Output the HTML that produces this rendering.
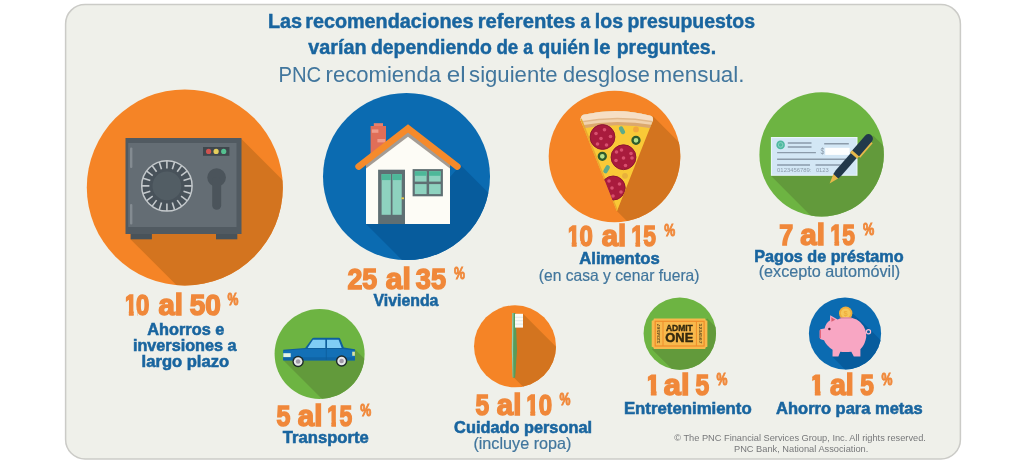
<!DOCTYPE html>
<html lang="es">
<head>
<meta charset="utf-8">
<title>Desglose mensual del presupuesto</title>
<style>
html,body{margin:0;padding:0;background:#fff;}
body{width:1024px;height:468px;overflow:hidden;}
svg{display:block;}
text{font-family:"Liberation Sans",sans-serif;}
.tb{font-weight:bold;fill:#19659f;}
.tr{fill:#3b7099;}
.num{font-weight:bold;fill:#f0883a;font-size:29px;}
.pct{font-weight:bold;fill:#f0883a;font-size:16.5px;}
.lab{font-weight:bold;fill:#1a6299;font-size:16.3px;}
.sub{fill:#3b7099;font-size:15.5px;}
.foot{fill:#77787a;font-size:9.6px;}
</style>
</head>
<body>
<svg width="1024" height="468" viewBox="0 0 1024 468">
<defs>
<clipPath id="c1"><circle cx="184.8" cy="187.4" r="98"/></clipPath>
<clipPath id="c2"><circle cx="406.5" cy="176.5" r="83.5"/></clipPath>
<clipPath id="c3"><circle cx="614.5" cy="156.5" r="65.8"/></clipPath>
<clipPath id="c4"><circle cx="821.6" cy="154.4" r="62.2"/></clipPath>
<clipPath id="c5"><circle cx="319.6" cy="354" r="45"/></clipPath>
<clipPath id="c6"><circle cx="515" cy="346.3" r="41"/></clipPath>
<clipPath id="c7"><circle cx="679.8" cy="333.6" r="36.2"/></clipPath>
<clipPath id="c8"><circle cx="845" cy="333.5" r="36.1"/></clipPath>
</defs>

<!-- card -->
<rect x="65.6" y="4.4" width="894.8" height="454.6" rx="19.5" ry="19.5" fill="#eff0ea" stroke="#cbcbc7" stroke-width="1.5"/>

<!-- title -->
<text x="267.94" y="28.02" font-size="19.93" font-weight="bold" fill="#19659f" stroke="#19659f" stroke-width="0.45" textLength="34.20" lengthAdjust="spacingAndGlyphs">Las</text>
<text x="305.19" y="28.02" font-size="19.93" font-weight="bold" fill="#19659f" stroke="#19659f" stroke-width="0.45" textLength="168.35" lengthAdjust="spacingAndGlyphs">recomendaciones</text>
<text x="477.66" y="28.02" font-size="19.93" font-weight="bold" fill="#19659f" stroke="#19659f" stroke-width="0.45" textLength="97.95" lengthAdjust="spacingAndGlyphs">referentes</text>
<text x="580.50" y="28.02" font-size="19.93" font-weight="bold" fill="#19659f" stroke="#19659f" stroke-width="0.45" textLength="9.72" lengthAdjust="spacingAndGlyphs">a</text>
<text x="594.86" y="28.02" font-size="19.93" font-weight="bold" fill="#19659f" stroke="#19659f" stroke-width="0.45" textLength="28.19" lengthAdjust="spacingAndGlyphs">los</text>
<text x="627.46" y="28.02" font-size="19.93" font-weight="bold" fill="#19659f" stroke="#19659f" stroke-width="0.45" textLength="127.54" lengthAdjust="spacingAndGlyphs">presupuestos</text>
<text x="308.23" y="53.98" font-size="19.93" font-weight="bold" fill="#19659f" stroke="#19659f" stroke-width="0.45" textLength="58.36" lengthAdjust="spacingAndGlyphs">varían</text>
<text x="370.95" y="53.98" font-size="19.93" font-weight="bold" fill="#19659f" stroke="#19659f" stroke-width="0.45" textLength="120.95" lengthAdjust="spacingAndGlyphs">dependiendo</text>
<text x="496.38" y="53.98" font-size="19.93" font-weight="bold" fill="#19659f" stroke="#19659f" stroke-width="0.45" textLength="21.84" lengthAdjust="spacingAndGlyphs">de</text>
<text x="523.30" y="53.98" font-size="19.93" font-weight="bold" fill="#19659f" stroke="#19659f" stroke-width="0.45" textLength="9.72" lengthAdjust="spacingAndGlyphs">a</text>
<text x="538.46" y="53.98" font-size="19.93" font-weight="bold" fill="#19659f" stroke="#19659f" stroke-width="0.45" textLength="51.25" lengthAdjust="spacingAndGlyphs">quién</text>
<text x="593.56" y="53.98" font-size="19.93" font-weight="bold" fill="#19659f" stroke="#19659f" stroke-width="0.45" textLength="16.91" lengthAdjust="spacingAndGlyphs">le</text>
<text x="616.71" y="53.98" font-size="19.93" font-weight="bold" fill="#19659f" stroke="#19659f" stroke-width="0.45" textLength="99.36" lengthAdjust="spacingAndGlyphs">preguntes.</text>
<text x="278.48" y="81.50" font-size="21.74" fill="#41769d" textLength="42.76" lengthAdjust="spacingAndGlyphs">PNC</text>
<text x="325.56" y="81.50" font-size="21.74" fill="#41769d" textLength="115.44" lengthAdjust="spacingAndGlyphs">recomienda</text>
<text x="446.78" y="81.50" font-size="21.74" fill="#41769d" textLength="18.88" lengthAdjust="spacingAndGlyphs">el</text>
<text x="469.09" y="81.50" font-size="21.74" fill="#41769d" textLength="88.58" lengthAdjust="spacingAndGlyphs">siguiente</text>
<text x="562.88" y="81.50" font-size="21.74" fill="#41769d" textLength="87.06" lengthAdjust="spacingAndGlyphs">desglose</text>
<text x="653.54" y="81.50" font-size="21.74" fill="#41769d" textLength="91.04" lengthAdjust="spacingAndGlyphs">mensual.</text>

<!-- circles -->
<g id="safe">
<circle cx="184.8" cy="187.4" r="98" fill="#f58426"/>
<g clip-path="url(#c1)"><polygon points="241.5,139 400,297.5 400,400 291.5,400 130.5,239.2" fill="#d3741f"/></g>
<rect x="130.6" y="232" width="21.3" height="7.3" fill="#485259"/>
<rect x="216" y="232" width="21.3" height="7.3" fill="#485259"/>
<rect x="125.5" y="138" width="116" height="96" fill="#515a61"/>
<rect x="128.2" y="143" width="108.3" height="84" fill="#646d74"/>
<rect x="130" y="147.5" width="2.4" height="20.5" rx="1" fill="#838b91"/>
<rect x="130" y="204" width="2.4" height="20.5" rx="1" fill="#838b91"/>
<rect x="203" y="147" width="26.4" height="8.8" fill="#3f474d"/>
<circle cx="208.6" cy="151.4" r="2.6" fill="#cf5350"/>
<circle cx="216.1" cy="151.4" r="2.6" fill="#e6cf5c"/>
<circle cx="223.7" cy="151.4" r="2.6" fill="#55c090"/>
<circle cx="166.9" cy="185.9" r="25.2" fill="#48525a" stroke="#c3c8cb" stroke-width="1.5"/>
<path d="M166.9,168.4L166.9,160.9M172.3,169.3L174.6,162.1M177.2,171.7L181.6,165.7M181.1,175.6L187.1,171.2M183.5,180.5L190.7,178.2M184.4,185.9L191.9,185.9M183.5,191.3L190.7,193.6M181.1,196.2L187.1,200.6M177.2,200.1L181.6,206.1M172.3,202.5L174.6,209.7M166.9,203.4L166.9,210.9M161.5,202.5L159.2,209.7M156.6,200.1L152.2,206.1M152.7,196.2L146.7,200.6M150.3,191.3L143.1,193.6M149.4,185.9L141.9,185.9M150.3,180.5L143.1,178.2M152.7,175.6L146.7,171.2M156.6,171.7L152.2,165.7M161.5,169.3L159.2,162.1" stroke="#c3c8cb" stroke-width="1.6" fill="none"/>
<circle cx="166.9" cy="185.9" r="14.4" fill="#525d64"/>
<circle cx="216.6" cy="177.5" r="9.3" fill="#4b545b"/>
<rect x="212.2" y="177" width="9" height="32.8" rx="4.5" fill="#4b545b"/>
</g>
<g id="house">
<circle cx="406.5" cy="176.5" r="83.5" fill="#0b6bb1"/>
<g clip-path="url(#c2)"><polygon points="460.5,165 600,304.5 600,400 542,400 366,224 430,200" fill="#075c9d"/></g>
<rect x="373.8" y="123.2" width="9.2" height="3.5" fill="#e8806c"/>
<rect x="370.6" y="126" width="15.4" height="34" fill="#e06e58"/>
<rect x="371.8" y="129.4" width="6.6" height="3.4" fill="#ef9c8b"/>
<rect x="377.4" y="139" width="7.8" height="3.4" fill="#ef9c8b"/>
<polygon points="366,224 366,163.5 408,131 450,163.5 450,224" fill="#a39c95"/>
<polygon points="366,224 366,168.600 408,136.700 450,168.600 450,224" fill="#fdfcf6"/>
<polyline points="358.6,166.6 408,128.4 457.4,166.6" fill="none" stroke="#f58a2b" stroke-width="6.6" stroke-linecap="round" stroke-linejoin="miter"/>
<rect x="378.1" y="169.7" width="26.9" height="54.3" fill="#5f6f73"/>
<rect x="381.6" y="174.1" width="9.2" height="40.7" fill="#8ed2bf"/>
<rect x="392.5" y="174.1" width="9.2" height="40.7" fill="#8ed2bf"/>
<rect x="381.6" y="174.1" width="9.2" height="6" fill="#4db899"/>
<rect x="392.5" y="174.1" width="9.2" height="6" fill="#4db899"/>
<rect x="401.4" y="197.4" width="2.6" height="1.8" fill="#e8c84a"/>
<rect x="412.6" y="169.1" width="30.3" height="27.2" fill="#5f6f73"/>
<rect x="414.8" y="171.3" width="11.8" height="10.3" fill="#8ed2bf"/>
<rect x="429.1" y="171.3" width="11.6" height="10.3" fill="#8ed2bf"/>
<rect x="414.8" y="184.1" width="11.8" height="10" fill="#8ed2bf"/>
<rect x="429.1" y="184.1" width="11.6" height="10" fill="#8ed2bf"/>
<rect x="414.8" y="171.3" width="11.8" height="4.5" fill="#4db899"/>
<rect x="429.1" y="171.3" width="11.6" height="4.5" fill="#4db899"/>
</g>
<g id="pizza">
<circle cx="614.5" cy="156.5" r="65.8" fill="#f58426"/>
<g clip-path="url(#c3)"><polygon points="652.8,116 760,223.2 760,300 706,300 616.9,211" fill="#d3741f"/></g>
<clipPath id="pz"><path d="M580.6,120.2 Q580.6,115.4 583.6,114.7 Q617,106.8 650.4,115.7 Q653.2,116.4 653,120.2 L616.9,211.3 Z"/></clipPath>
<g clip-path="url(#pz)">
<rect x="575" y="100" width="85" height="115" fill="#f9c937"/>
<path d="M575,100 H660 V129.8 Q617,120.6 575,129.8 Z" fill="#dba86e"/>
<path d="M575,100 H660 V126.5 Q617,117.3 575,126.5 Z" fill="#f1d2ac"/>
<path d="M575,100 H660 V123.8 Q617,114.6 575,123.8 Z" fill="#e2b88a"/>
<path d="M575,100 H660 V122.4 Q617,113.2 575,122.4 Z" fill="#f6dfc5"/>
<path d="M580.6,119 L616.9,211.3" stroke="#eaa92f" stroke-width="2.4" fill="none"/>
<circle cx="602.5" cy="137" r="12.4" fill="#a91b3d" stroke="#8d1632" stroke-width="1"/>
<g fill="#d8506f"><circle cx="596" cy="133.500" r="1.800"/><circle cx="604.500" cy="129.800" r="1.800"/><circle cx="610.500" cy="136.500" r="1.800"/><circle cx="601" cy="138.500" r="1.800"/><circle cx="597.500" cy="144" r="1.800"/><circle cx="606.500" cy="145" r="1.800"/></g>
<circle cx="623.5" cy="157.2" r="12.4" fill="#a91b3d" stroke="#8d1632" stroke-width="1"/>
<g fill="#d8506f"><circle cx="621.500" cy="150" r="1.800"/><circle cx="631" cy="153.500" r="1.800"/><circle cx="616" cy="160.500" r="1.800"/><circle cx="623.500" cy="158" r="1.800"/><circle cx="632" cy="158" r="1.800"/><circle cx="625.500" cy="165.500" r="1.800"/><circle cx="616.500" cy="152" r="1.800"/></g>
<circle cx="613.2" cy="188" r="12" fill="#a91b3d" stroke="#8d1632" stroke-width="1"/>
<g fill="#d8506f"><circle cx="609" cy="181" r="1.800"/><circle cx="619.500" cy="184" r="1.800"/><circle cx="612" cy="188" r="1.800"/><circle cx="621" cy="192" r="1.800"/><circle cx="613" cy="196" r="1.800"/></g>
<rect x="619.8" y="126" width="4.4" height="8.4" rx="2.2" fill="#5dab8b" transform="rotate(-28 622 130.200)"/>
<rect x="604.4" y="164.800" width="4.4" height="8.800" rx="2.2" fill="#5dab8b" transform="rotate(30 606.600 169.200)"/>
<circle cx="636" cy="129.400" r="2.900" fill="#f2a83c"/>
<circle cx="625" cy="175.800" r="2.900" fill="#e8b13c"/>
<circle cx="636" cy="140.300" r="3.500" fill="#b5e08a" stroke="#2e5b2c" stroke-width="2.300"/>
<circle cx="602.300" cy="156.300" r="3.500" fill="#b5e08a" stroke="#2e5b2c" stroke-width="2.300"/>
</g>
</g>
<g id="check">
<circle cx="821.6" cy="154.4" r="62.2" fill="#6db442"/>
<g clip-path="url(#c4)"><polygon points="873.2,135.5 960,222.3 960,300 895,300 770.9,175.8 850,160" fill="#629a3b"/></g>
<rect x="770.9" y="137" width="86.6" height="38.8" fill="#e9f4fa"/>
<rect x="772" y="138.100" width="84.400" height="36.600" fill="#d3e7f5"/>
<circle cx="780.6" cy="144.9" r="4.3" fill="#4fb9a1"/>
<circle cx="780.6" cy="144.9" r="2.3" fill="none" stroke="#8fd6c4" stroke-width="0.9"/>
<g stroke="#8b9baa" stroke-width="1.4" fill="none">
<path d="M787.8,143 H811.5 M787.8,147 H811.5 M777.1,152.600 H815.9 M824.2,143.800 H848.8 M777.1,159.300 H846 M777.1,165 H810 M815.5,165 H840.5"/>
</g>
<rect x="825.2" y="147.800" width="24.400" height="7.100" fill="#fdfefe"/>
<text x="820.6" y="154.300" font-size="8.400" fill="#8b9baa" textLength="3.800" lengthAdjust="spacingAndGlyphs">$</text>
<text x="777.1" y="171.600" font-size="4.600" fill="#8b9baa" font-family="'Liberation Mono',monospace" textLength="34.400" lengthAdjust="spacingAndGlyphs">0123456789:</text>
<text x="815.9" y="171.600" font-size="4.600" fill="#8b9baa" font-family="'Liberation Mono',monospace" textLength="12.900" lengthAdjust="spacingAndGlyphs">0123</text>
<g transform="translate(829.6 183.400) rotate(-49.1)">
<path d="M0,0 L9.800,-3.300 L9.800,3.300 Z" fill="#e7b84a"/>
<path d="M39.500,3 H58.500 V6.300 H39.500 Z" fill="#e7b84a"/>
<path d="M9.500,-3.300 L14,-3.900 H37 V3.900 H14 L9.500,3.300 Z" fill="#22394b"/>
<path d="M37,-4.500 H59.300 A4.500,4.500 0 0 1 59.300,4.500 H37 Z" fill="#22394b"/>
<rect x="36.800" y="-4.700" width="3" height="9.400" fill="#e7b84a"/>
</g>
</g>
<g id="car">
<circle cx="319.6" cy="354" r="45" fill="#6db442"/>
<g clip-path="url(#c5)"><polygon points="354.900,349.200 420,414.300 420,460 383,460 283.500,360.500 320,352" fill="#629a3b"/></g>
<path d="M283.300,360.300 V349.700 L305.200,348 L312,338.800 Q312.600,337.800 314,337.800 H338.500 Q339.800,337.800 340.300,339 L343.800,347.500 L354.900,349.200 V360.300 Z" fill="#0e5f9d"/>
<path d="M283.300,360.300 V350.800 L305.800,349 H343.500 L354.900,350.400 V360.300 Z" fill="#1370b6"/>
<rect x="283.300" y="357.300" width="71.600" height="3" fill="#0f64a6"/>
<path d="M313,339.800 H325.300 V348 H307.600 Z" fill="#80cdf5"/>
<path d="M327,339.800 H338.600 L341.700,348 H327 Z" fill="#80cdf5"/>
<rect x="325.800" y="348" width="0.900" height="12" fill="#0e5f9d"/>
<rect x="283.300" y="353.200" width="7.400" height="3.900" fill="#e4f3e4"/>
<rect x="352.200" y="351.700" width="2.700" height="4.100" fill="#d9e2a4"/>
<circle cx="298.100" cy="361.500" r="5.700" fill="#1d2a2a"/>
<circle cx="298.100" cy="361.500" r="4.300" fill="#e6e8ea"/>
<circle cx="298.100" cy="361.500" r="2.300" fill="#a09aa8"/>
<circle cx="341.600" cy="361" r="5.700" fill="#1d2a2a"/>
<circle cx="341.600" cy="361" r="4.300" fill="#e6e8ea"/>
<circle cx="341.600" cy="361" r="2.300" fill="#a09aa8"/>
</g>
<g id="brush">
<circle cx="515" cy="346.3" r="41" fill="#f58426"/>
<g clip-path="url(#c6)"><polygon points="523,313.800 600,390.800 600,440 576.300,440 513.800,377.500 514,330" fill="#d3741f"/></g>
<path d="M512.300,313 H515.500 L517,350 L515.200,377.300 Q513.800,378.800 512.700,377.300 L511.800,350 Z" fill="#5a9b58"/>
<path d="M512.300,313 H513.500 L513.100,350 L513.300,377.600 Q513,377.600 512.700,377.300 L511.800,350 Z" fill="#93d0b2"/>
<rect x="515" y="313.800" width="8" height="13.800" fill="#fbfbf6"/>
<path d="M515.200,317.300 H523 M515.200,320.700 H523 M515.200,324.100 H523" stroke="#d5e4e2" stroke-width="0.800" fill="none"/>
</g>
<g id="ticket">
<circle cx="679.8" cy="333.6" r="36.2" fill="#6db442"/>
<g clip-path="url(#c7)"><polygon points="707.400,318.600 780,391.200 780,420 722.800,420 651.700,348.900 690,335" fill="#629a3b"/></g>
<path d="M653.9000000000001,318.6 H705.1999999999999 A2.2,2.2 0 0 0 707.4,320.8 V346.7 A2.2,2.2 0 0 0 705.1999999999999,348.9 H653.9000000000001 A2.2,2.2 0 0 0 651.7,346.7 V320.8 A2.2,2.2 0 0 0 653.9000000000001,318.6 Z" fill="#f8b94c"/>
<rect x="655.200" y="321.300" width="48.900" height="24.700" fill="none" stroke="#ef8d2a" stroke-width="1.200"/>
<path d="M663,321.300 V346 M696.400,321.300 V346" stroke="#ef8d2a" stroke-width="1" fill="none"/>
<text transform="translate(660.400 343.600) rotate(-90)" font-size="3.800" font-weight="bold" fill="#5d4a22" textLength="20" lengthAdjust="spacingAndGlyphs">1234567</text>
<text transform="translate(698.900 323.600) rotate(90)" font-size="3.800" font-weight="bold" fill="#5d4a22" textLength="20" lengthAdjust="spacingAndGlyphs">1234567</text>
<text x="665.900" y="331" font-size="8.300" font-weight="bold" fill="#33290f" stroke="#33290f" stroke-width="0.35" textLength="26.900" lengthAdjust="spacingAndGlyphs">ADMIT</text>
<text x="665.300" y="342.100" font-size="12.900" font-weight="bold" fill="#33290f" stroke="#33290f" stroke-width="0.45" textLength="28" lengthAdjust="spacingAndGlyphs">ONE</text>
</g>
<g id="pig">
<circle cx="845" cy="333.5" r="36.1" fill="#0b6bb1"/>
<g clip-path="url(#c8)"><polygon points="852,313 862,322 870.500,330 930,389.500 930,420 895.600,420 832.200,356.600 845,340" fill="#075c9d"/></g>
<circle cx="845.700" cy="313.200" r="6.700" fill="#efae3d"/>
<circle cx="845.700" cy="313.200" r="4.800" fill="#f6c75a"/>
<text x="843.600" y="316.300" font-size="7.600" font-weight="bold" fill="#efae3d" textLength="4.200" lengthAdjust="spacingAndGlyphs">$</text>
<circle cx="868.500" cy="331.800" r="2.100" fill="none" stroke="#f9bcd2" stroke-width="1.200"/>
<path d="M819.700,331 Q819.700,329.200 821.500,329.100 L824.600,328.600 Q826,322.800 829.900,320.600 L830.200,315.300 L837.600,319.400 Q842,317.300 847,317.300 Q858,317.600 863.500,326 Q867.600,333 865.600,340 Q864,346 860.400,349.200 L860.400,356.600 H853.800 L851.300,351.800 Q845,352.200 840.300,351.800 L838.400,356.600 H832.500 L832.600,349.800 Q826.500,346 824,340.300 L821.500,339.500 Q819.700,339.500 819.700,337.800 Z" fill="#f8a6c3"/>
<path d="M831.300,317.300 L835.300,319.800 L831.400,321.800 Z" fill="#d95d6f"/>
<rect x="819.700" y="329.800" width="1.300" height="8.600" rx="0.600" fill="#e3657a"/>
<circle cx="829.400" cy="329" r="1.250" fill="#5b2236"/>
<rect x="839.500" y="317.500" width="12.600" height="1.100" rx="0.500" fill="#cf7f98"/>
</g>

<!-- labels -->
<clipPath id="k0"><rect x="125.90" y="290.95" width="7.80" height="19.81"/><rect x="128.86" y="310.26" width="4.84" height="8.49"/><rect x="135.75" y="290.95" width="14.50" height="19.21"/><rect x="137.05" y="310.06" width="13.20" height="8.69"/></clipPath>
<g clip-path="url(#k0)"><text transform="translate(124.00 314.85) scale(0.8280 1)" x="0 14.51" y="0" font-size="28.99" font-weight="bold" fill="#f0883a" stroke="#f0883a" stroke-width="1.5">10</text></g>
<text x="158.47" y="314.85" font-size="28.99" font-weight="bold" fill="#f0883a" stroke="#f0883a" stroke-width="1.5" textLength="24.57" lengthAdjust="spacingAndGlyphs">al</text>
<text x="189.81" y="314.85" font-size="28.99" font-weight="bold" fill="#f0883a" stroke="#f0883a" stroke-width="1.5" textLength="31.12" lengthAdjust="spacingAndGlyphs">50</text>
<text x="227.54" y="305.39" font-size="16.45" font-weight="bold" fill="#f0883a" stroke="#f0883a" stroke-width="0.9" textLength="10.90" lengthAdjust="spacingAndGlyphs">%</text>
<text x="347.41" y="288.50" font-size="29.42" font-weight="bold" fill="#f0883a" stroke="#f0883a" stroke-width="1.5" textLength="29.82" lengthAdjust="spacingAndGlyphs">25</text>
<text x="385.85" y="288.50" font-size="29.42" font-weight="bold" fill="#f0883a" stroke="#f0883a" stroke-width="1.5" textLength="24.96" lengthAdjust="spacingAndGlyphs">al</text>
<text x="415.82" y="288.50" font-size="29.42" font-weight="bold" fill="#f0883a" stroke="#f0883a" stroke-width="1.5" textLength="30.17" lengthAdjust="spacingAndGlyphs">35</text>
<text x="454.04" y="279.14" font-size="16.45" font-weight="bold" fill="#f0883a" stroke="#f0883a" stroke-width="0.9" textLength="10.90" lengthAdjust="spacingAndGlyphs">%</text>
<clipPath id="k9"><rect x="568.80" y="221.70" width="7.80" height="20.02"/><rect x="571.77" y="241.22" width="4.83" height="8.53"/><rect x="579.25" y="221.70" width="14.50" height="19.42"/><rect x="580.55" y="241.02" width="13.20" height="8.73"/></clipPath>
<g clip-path="url(#k9)"><text transform="translate(566.91 245.85) scale(0.8178 1)" x="0 15.40" y="0" font-size="29.35" font-weight="bold" fill="#f0883a" stroke="#f0883a" stroke-width="1.5">10</text></g>
<text x="601.77" y="245.85" font-size="29.35" font-weight="bold" fill="#f0883a" stroke="#f0883a" stroke-width="1.5" textLength="24.51" lengthAdjust="spacingAndGlyphs">al</text>
<clipPath id="k12"><rect x="632.30" y="221.70" width="7.80" height="20.02"/><rect x="635.50" y="241.22" width="4.60" height="8.53"/><rect x="642.75" y="221.70" width="14.50" height="19.42"/><rect x="644.05" y="241.02" width="13.20" height="8.73"/></clipPath>
<g clip-path="url(#k12)"><text transform="translate(630.88 245.85) scale(0.7769 1)" x="0 15.92" y="0" font-size="29.35" font-weight="bold" fill="#f0883a" stroke="#f0883a" stroke-width="1.5">15</text></g>
<text x="664.14" y="236.14" font-size="16.45" font-weight="bold" fill="#f0883a" stroke="#f0883a" stroke-width="0.9" textLength="10.96" lengthAdjust="spacingAndGlyphs">%</text>
<text x="779.35" y="244.85" font-size="28.77" font-weight="bold" fill="#f0883a" stroke="#f0883a" stroke-width="1.5" textLength="13.93" lengthAdjust="spacingAndGlyphs">7</text>
<text x="800.36" y="244.85" font-size="28.77" font-weight="bold" fill="#f0883a" stroke="#f0883a" stroke-width="1.5" textLength="24.68" lengthAdjust="spacingAndGlyphs">al</text>
<clipPath id="k17"><rect x="831.30" y="221.10" width="7.80" height="19.68"/><rect x="834.48" y="240.28" width="4.62" height="8.47"/><rect x="841.75" y="221.10" width="14.50" height="19.08"/><rect x="843.05" y="240.08" width="13.20" height="8.67"/></clipPath>
<g clip-path="url(#k17)"><text transform="translate(829.87 244.85) scale(0.7925 1)" x="0 15.63" y="0" font-size="28.77" font-weight="bold" fill="#f0883a" stroke="#f0883a" stroke-width="1.5">15</text></g>
<text x="862.88" y="235.29" font-size="16.17" font-weight="bold" fill="#f0883a" stroke="#f0883a" stroke-width="0.9" textLength="11.22" lengthAdjust="spacingAndGlyphs">%</text>
<text x="276.50" y="425.60" font-size="29.35" font-weight="bold" fill="#f0883a" stroke="#f0883a" stroke-width="1.5" textLength="13.90" lengthAdjust="spacingAndGlyphs">5</text>
<text x="297.86" y="425.60" font-size="29.35" font-weight="bold" fill="#f0883a" stroke="#f0883a" stroke-width="1.5" textLength="24.68" lengthAdjust="spacingAndGlyphs">al</text>
<clipPath id="k22"><rect x="328.20" y="401.45" width="7.80" height="20.02"/><rect x="331.40" y="420.97" width="4.60" height="8.53"/><rect x="339.00" y="401.45" width="14.50" height="19.42"/><rect x="340.30" y="420.77" width="13.20" height="8.73"/></clipPath>
<g clip-path="url(#k22)"><text transform="translate(326.78 425.60) scale(0.7769 1)" x="0 16.37" y="0" font-size="29.35" font-weight="bold" fill="#f0883a" stroke="#f0883a" stroke-width="1.5">15</text></g>
<text x="360.14" y="415.89" font-size="16.10" font-weight="bold" fill="#f0883a" stroke="#f0883a" stroke-width="0.9" textLength="10.96" lengthAdjust="spacingAndGlyphs">%</text>
<text x="475.51" y="414.60" font-size="29.35" font-weight="bold" fill="#f0883a" stroke="#f0883a" stroke-width="1.5" textLength="13.63" lengthAdjust="spacingAndGlyphs">5</text>
<text x="496.87" y="414.60" font-size="29.35" font-weight="bold" fill="#f0883a" stroke="#f0883a" stroke-width="1.5" textLength="24.51" lengthAdjust="spacingAndGlyphs">al</text>
<clipPath id="k27"><rect x="527.40" y="390.45" width="7.80" height="20.02"/><rect x="530.37" y="409.97" width="4.83" height="8.53"/><rect x="538.50" y="390.45" width="14.50" height="19.42"/><rect x="539.80" y="409.77" width="13.20" height="8.73"/></clipPath>
<g clip-path="url(#k27)"><text transform="translate(525.51 414.60) scale(0.8178 1)" x="0 16.20" y="0" font-size="29.35" font-weight="bold" fill="#f0883a" stroke="#f0883a" stroke-width="1.5">10</text></g>
<text x="559.39" y="404.89" font-size="16.45" font-weight="bold" fill="#f0883a" stroke="#f0883a" stroke-width="0.9" textLength="10.96" lengthAdjust="spacingAndGlyphs">%</text>
<clipPath id="k30"><path d="M647.90,370.95 H656.50 V398.75 H650.85 V391.01 H647.90 Z"/></clipPath>
<text clip-path="url(#k30)" x="644.62" y="395.00" font-size="29.42" font-weight="bold" fill="#f0883a" stroke="#f0883a" stroke-width="1.2" textLength="16.58" lengthAdjust="spacingAndGlyphs">1</text>
<text x="663.83" y="394.85" font-size="28.99" font-weight="bold" fill="#f0883a" stroke="#f0883a" stroke-width="1.5" textLength="25.64" lengthAdjust="spacingAndGlyphs">al</text>
<text x="695.61" y="394.85" font-size="28.99" font-weight="bold" fill="#f0883a" stroke="#f0883a" stroke-width="1.5" textLength="13.68" lengthAdjust="spacingAndGlyphs">5</text>
<text x="716.39" y="385.14" font-size="16.45" font-weight="bold" fill="#f0883a" stroke="#f0883a" stroke-width="0.9" textLength="10.96" lengthAdjust="spacingAndGlyphs">%</text>
<clipPath id="k35"><path d="M812.30,370.95 H820.50 V398.75 H814.85 V391.01 H812.30 Z"/></clipPath>
<text clip-path="url(#k35)" x="808.62" y="395.00" font-size="29.42" font-weight="bold" fill="#f0883a" stroke="#f0883a" stroke-width="1.2" textLength="16.58" lengthAdjust="spacingAndGlyphs">1</text>
<text x="829.89" y="394.85" font-size="28.99" font-weight="bold" fill="#f0883a" stroke="#f0883a" stroke-width="1.5" textLength="23.83" lengthAdjust="spacingAndGlyphs">al</text>
<text x="860.26" y="394.85" font-size="28.99" font-weight="bold" fill="#f0883a" stroke="#f0883a" stroke-width="1.5" textLength="13.63" lengthAdjust="spacingAndGlyphs">5</text>
<text x="881.39" y="385.14" font-size="16.45" font-weight="bold" fill="#f0883a" stroke="#f0883a" stroke-width="0.9" textLength="10.96" lengthAdjust="spacingAndGlyphs">%</text>
<text x="147.27" y="335.23" font-size="16.45" font-weight="bold" fill="#19659f" stroke="#19659f" stroke-width="0.55" textLength="77.08" lengthAdjust="spacingAndGlyphs">Ahorros e</text>
<text x="132.89" y="351.12" font-size="16.45" font-weight="bold" fill="#19659f" stroke="#19659f" stroke-width="0.55" textLength="103.71" lengthAdjust="spacingAndGlyphs">inversiones a</text>
<text x="141.61" y="366.93" font-size="16.45" font-weight="bold" fill="#19659f" stroke="#19659f" stroke-width="0.55" textLength="87.50" lengthAdjust="spacingAndGlyphs">largo plazo</text>
<text x="373.45" y="305.73" font-size="16.45" font-weight="bold" fill="#19659f" stroke="#19659f" stroke-width="0.55" textLength="65.02" lengthAdjust="spacingAndGlyphs">Vivienda</text>
<text x="579.26" y="264.23" font-size="16.45" font-weight="bold" fill="#19659f" stroke="#19659f" stroke-width="0.55" textLength="80.52" lengthAdjust="spacingAndGlyphs">Alimentos</text>
<text x="754.22" y="261.98" font-size="16.45" font-weight="bold" fill="#19659f" stroke="#19659f" stroke-width="0.55" textLength="149.41" lengthAdjust="spacingAndGlyphs">Pagos de préstamo</text>
<text x="282.86" y="443.33" font-size="16.45" font-weight="bold" fill="#19659f" stroke="#19659f" stroke-width="0.55" textLength="85.90" lengthAdjust="spacingAndGlyphs">Transporte</text>
<text x="454.12" y="432.98" font-size="16.45" font-weight="bold" fill="#19659f" stroke="#19659f" stroke-width="0.55" textLength="137.92" lengthAdjust="spacingAndGlyphs">Cuidado personal</text>
<text x="623.93" y="414.12" font-size="16.45" font-weight="bold" fill="#19659f" stroke="#19659f" stroke-width="0.55" textLength="127.75" lengthAdjust="spacingAndGlyphs">Entretenimiento</text>
<text x="776.11" y="414.12" font-size="16.45" font-weight="bold" fill="#19659f" stroke="#19659f" stroke-width="0.55" textLength="146.55" lengthAdjust="spacingAndGlyphs">Ahorro para metas</text>
<text x="538.86" y="280.90" font-size="16.50" fill="#41769d" stroke="#41769d" stroke-width="0.2" textLength="160.62" lengthAdjust="spacingAndGlyphs">(en casa y cenar fuera)</text>
<text x="758.63" y="276.90" font-size="16.50" fill="#41769d" stroke="#41769d" stroke-width="0.2" textLength="141.52" lengthAdjust="spacingAndGlyphs">(excepto automóvil)</text>
<text x="473.38" y="449.10" font-size="16.50" fill="#41769d" stroke="#41769d" stroke-width="0.2" textLength="98.05" lengthAdjust="spacingAndGlyphs">(incluye ropa)</text>
<text x="674.26" y="440.80" font-size="9.80" fill="#77787a" textLength="251.61" lengthAdjust="spacingAndGlyphs">© The PNC Financial Services Group, Inc. All rights reserved.</text>
<text x="733.96" y="451.80" font-size="9.80" fill="#77787a" textLength="134.40" lengthAdjust="spacingAndGlyphs">PNC Bank, National Association.</text>
</svg>
</body>
</html>
